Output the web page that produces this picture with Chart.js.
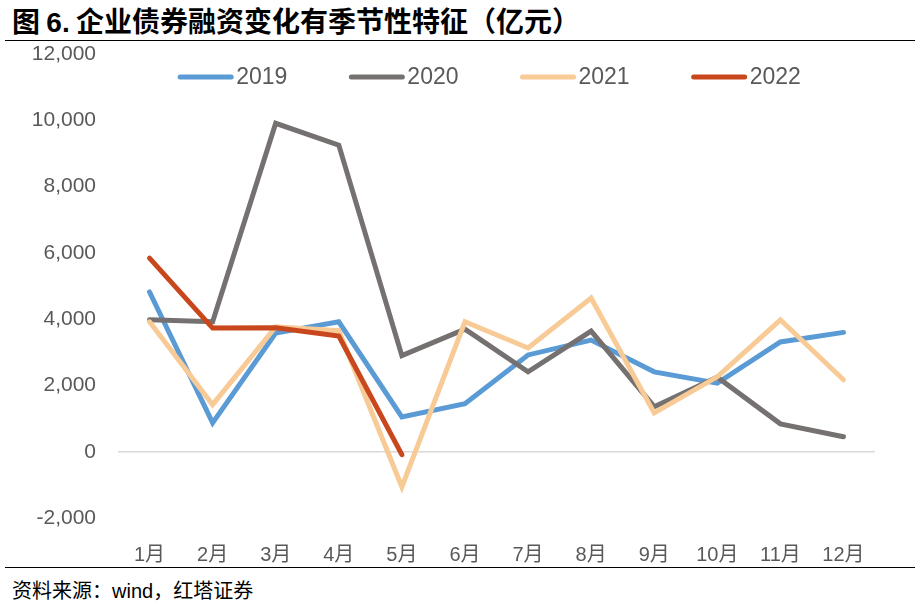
<!DOCTYPE html>
<html>
<head>
<meta charset="utf-8">
<script src="https://cdn.jsdelivr.net/npm/chart.js@4.4.0/dist/chart.umd.min.js"></script>
<style>
  body {
    margin: 0;
    width: 921px;
    height: 604px;
    background: #fff;
    position: relative;
    overflow: hidden;
    font-family: "Liberation Sans", "Noto Sans CJK SC", sans-serif;
  }
  .title {
    position: absolute;
    left: 12px;
    top: 0px;
    font-size: 28px;
    font-weight: bold;
    color: #000;
    white-space: nowrap;
    font-family: "Noto Sans CJK SC", sans-serif;
  }
  .title .num { font-family: "Liberation Sans", sans-serif; }
  .rule { position: absolute; left: 5px; width: 910px; height: 0; border-top: 1.5px solid #000; }
  .chart-box { position: absolute; left: 0; top: 41px; width: 921px; height: 525px; }
  .source {
    position: absolute;
    left: 12px;
    top: 575px;
    font-size: 20px;
    color: #000;
    white-space: nowrap;
  }
</style>
</head>
<body>
<div class="title">图 <span class="num">6.</span> 企业债券融资变化有季节性特征（亿元）</div>
<div class="rule" style="top:40px"></div>
<div class="chart-box"><canvas id="bondChart"></canvas></div>
<div class="rule" style="top:567px"></div>
<div class="source">资料来源：wind，红塔证券</div>

<script>
// 月份和年份
const months = ['1月', '2月', '3月', '4月', '5月', '6月', '7月', '8月', '9月', '10月', '11月', '12月'];
const years = ['2019', '2020', '2021', '2022'];

// 各年企业债券融资（亿元）
const v2019 = [4820, 870, 3580, 3920, 1050, 1450, 2920, 3370, 2410, 2070, 3310, 3600];
const v2020 = [3980, 3920, 9910, 9250, 2900, 3700, 2410, 3640, 1360, 2250, 840, 450];
const v2021 = [3920, 1420, 3770, 3650, -1060, 3920, 3130, 4640, 1170, 2260, 3980, 2170];
const v2022 = [5840, 3730, 3740, 3490, -90];

// 纵轴刻度
const yTicks = [-2000, 0, 2000, 4000, 6000, 8000, 10000, 12000];

const seriesValues = [v2019, v2020, v2021, v2022];
const colors = ['#5B9BD5', '#767171', '#F8CA96', '#C9471D'];

// 图例画在绘图区内部
const insideLegend = {
    id: 'insideLegend',
    afterDraw(chart) {
        const ctx = chart.ctx;
        const area = chart.chartArea;
        const lineLen = 55, gap = 3, space = 62;
        ctx.save();
        ctx.font = '23px "Liberation Sans", sans-serif';
        const items = chart.data.datasets.map(ds => ({ ds: ds, w: ctx.measureText(ds.label).width }));
        let total = space * (items.length - 1);
        items.forEach(it => { total += lineLen + gap + it.w; });
        let x = area.left + (area.width - total) / 2 - 7;
        const y = area.top + 23;
        items.forEach(it => {
            ctx.strokeStyle = it.ds.borderColor;
            ctx.lineWidth = 5;
            ctx.lineCap = 'round';
            ctx.beginPath();
            ctx.moveTo(x + 2, y);
            ctx.lineTo(x + lineLen - 2, y);
            ctx.stroke();
            ctx.fillStyle = '#595959';
            ctx.textBaseline = 'middle';
            ctx.textAlign = 'left';
            ctx.fillText(it.ds.label, x + lineLen + gap, y + 1);
            x += lineLen + gap + it.w + space;
        });
        ctx.restore();
    }
};

new Chart(document.getElementById('bondChart'), {
    type: 'line',
    data: {
        labels: months,
        datasets: years.map((yr, i) => ({
            label: yr,
            data: seriesValues[i],
            borderColor: colors[i],
            backgroundColor: colors[i],
            borderWidth: 5,
            borderCapStyle: 'round',
            pointRadius: 0,
            pointHoverRadius: 0,
            tension: 0,
            fill: false,
            order: years.length - i
        }))
    },
    options: {
        responsive: true,
        maintainAspectRatio: false,
        animation: false,
        layout: {
            padding: { top: 13, right: 46, bottom: 0, left: 0 }
        },
        plugins: {
            legend: { display: false },
            tooltip: { enabled: false }
        },
        scales: {
            x: {
                offset: true,
                grid: { display: false, offset: true },
                border: { display: false },
                ticks: {
                    color: '#595959',
                    padding: 17,
                    maxRotation: 0,
                    font: { family: '"Liberation Sans", "Noto Sans CJK SC", sans-serif', size: 20 }
                },
                afterFit: function(scale) {
                    scale.height = 48;
                    scale.paddingLeft = 0;
                    scale.paddingRight = 0;
                }
            },
            y: {
                min: yTicks[0],
                max: yTicks[yTicks.length - 1],
                afterBuildTicks: function(scale) {
                    scale.ticks = yTicks.map(v => ({ value: v }));
                },
                grid: {
                    drawTicks: false,
                    lineWidth: 1.5,
                    color: function(ctx) {
                        return ctx.tick && ctx.tick.value === 0 ? '#D9D9D9' : 'rgba(0,0,0,0)';
                    }
                },
                border: { display: false },
                ticks: {
                    color: '#595959',
                    padding: 22,
                    font: { family: '"Liberation Sans", sans-serif', size: 21 },
                    callback: function(value) {
                        return value.toLocaleString('en-US');
                    }
                },
                afterFit: function(scale) {
                    scale.width = 118;
                    scale.paddingTop = 0;
                    scale.paddingBottom = 0;
                }
            }
        }
    },
    plugins: [insideLegend]
});
</script>
</body>
</html>
